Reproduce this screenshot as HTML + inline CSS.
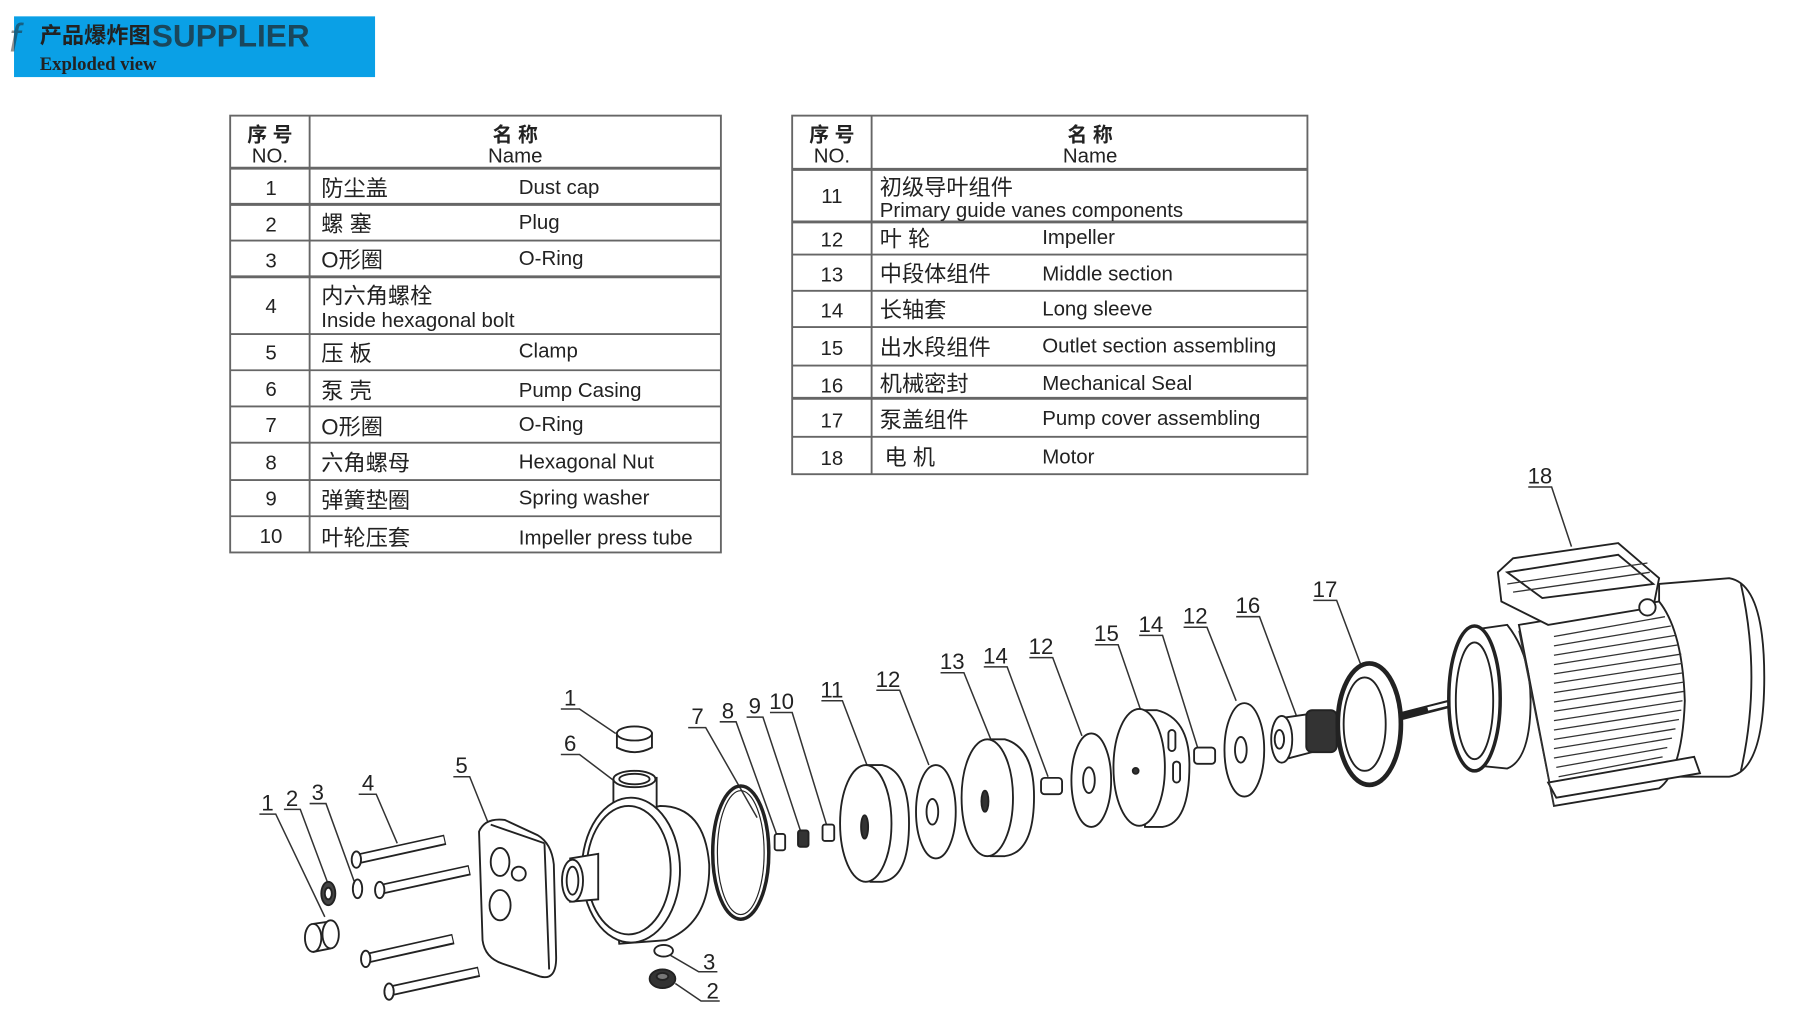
<!DOCTYPE html>
<html><head><meta charset="utf-8"><style>
html,body{margin:0;padding:0;background:#fff;}
svg{display:block;}
text{font-family:"Liberation Sans","Noto Sans CJK SC",sans-serif;fill:#222;}
</style></head><body>
<svg width="1811" height="1036" viewBox="0 0 1550 887" preserveAspectRatio="none" xmlns="http://www.w3.org/2000/svg">
<rect width="1550" height="887" fill="#fff"/>
<rect x="12" y="14" width="309" height="52" fill="#0aa0e6"/>
<text x="8" y="44" font-size="34" fill="#999" opacity="0.5" font-style="italic">f</text>
<text x="34" y="37" font-size="19" fill="#fff" font-weight="bold">产品爆炸图</text>
<text x="130" y="40" font-size="27" fill="#555" opacity="0.7" font-weight="bold">SUPPLIER</text>
<text x="34" y="60" font-size="16" fill="#fff" font-weight="bold" style="font-family:'Liberation Serif',serif">Exploded view</text>

<g stroke="#666" stroke-width="1.6" fill="none">
<rect x="197" y="99" width="420" height="374"/>
<line x1="265" y1="99" x2="265" y2="473"/>
<line x1="197" y1="144" x2="617" y2="144" stroke-width="2.5"/>
<line x1="197" y1="175" x2="617" y2="175" stroke-width="2.5"/>
<line x1="197" y1="206" x2="617" y2="206"/>
<line x1="197" y1="237" x2="617" y2="237" stroke-width="2.5"/>
<line x1="197" y1="286" x2="617" y2="286"/>
<line x1="197" y1="317" x2="617" y2="317"/>
<line x1="197" y1="348" x2="617" y2="348"/>
<line x1="197" y1="379" x2="617" y2="379"/>
<line x1="197" y1="411" x2="617" y2="411"/>
<line x1="197" y1="442" x2="617" y2="442"/>
</g>
<g font-size="17.5">
<text x="231" y="121" text-anchor="middle" font-weight="bold" font-size="17">序 号</text>
<text x="231" y="139" text-anchor="middle">NO.</text>
<text x="441" y="121" text-anchor="middle" font-weight="bold" font-size="17">名 称</text>
<text x="441" y="139" text-anchor="middle">Name</text>
<g text-anchor="middle">
<text x="232" y="167">1</text><text x="232" y="198">2</text><text x="232" y="229">3</text>
<text x="232" y="268">4</text><text x="232" y="308">5</text><text x="232" y="339">6</text>
<text x="232" y="370">7</text><text x="232" y="402">8</text><text x="232" y="433">9</text>
<text x="232" y="465">10</text></g>
<text x="275" y="168" font-size="19">防尘盖</text><text x="444" y="166">Dust cap</text>
<text x="275" y="198" font-size="19">螺  塞</text><text x="444" y="196">Plug</text>
<text x="275" y="229" font-size="19">O形圈</text><text x="444" y="227">O-Ring</text>
<text x="275" y="260" font-size="19">内六角螺栓</text><text x="275" y="280">Inside hexagonal bolt</text>
<text x="275" y="309" font-size="19">压 板</text><text x="444" y="306">Clamp</text>
<text x="275" y="341" font-size="19">泵  壳</text><text x="444" y="340">Pump Casing</text>
<text x="275" y="372" font-size="19">O形圈</text><text x="444" y="369">O-Ring</text>
<text x="275" y="403" font-size="19">六角螺母</text><text x="444" y="401">Hexagonal Nut</text>
<text x="275" y="435" font-size="19">弹簧垫圈</text><text x="444" y="432">Spring washer</text>
<text x="275" y="467" font-size="19">叶轮压套</text><text x="444" y="466">Impeller press tube</text>
</g>

<g stroke="#666" stroke-width="1.6" fill="none">
<rect x="678" y="99" width="441" height="307"/>
<line x1="746" y1="99" x2="746" y2="406"/>
<line x1="678" y1="145" x2="1119" y2="145" stroke-width="2.5"/>
<line x1="678" y1="190" x2="1119" y2="190" stroke-width="2.5"/>
<line x1="678" y1="218" x2="1119" y2="218"/>
<line x1="678" y1="249" x2="1119" y2="249"/>
<line x1="678" y1="280" x2="1119" y2="280"/>
<line x1="678" y1="313" x2="1119" y2="313"/>
<line x1="678" y1="341" x2="1119" y2="341" stroke-width="2.5"/>
<line x1="678" y1="374" x2="1119" y2="374"/>
</g>
<g font-size="17.5">
<text x="712" y="121" text-anchor="middle" font-weight="bold" font-size="17">序 号</text>
<text x="712" y="139" text-anchor="middle">NO.</text>
<text x="933" y="121" text-anchor="middle" font-weight="bold" font-size="17">名 称</text>
<text x="933" y="139" text-anchor="middle">Name</text>
<g text-anchor="middle">
<text x="712" y="174">11</text><text x="712" y="211">12</text><text x="712" y="241">13</text>
<text x="712" y="272">14</text><text x="712" y="304">15</text><text x="712" y="336">16</text>
<text x="712" y="366">17</text><text x="712" y="398">18</text></g>
<text x="753" y="167" font-size="19">初级导叶组件</text><text x="753" y="186">Primary guide vanes components</text>
<text x="753" y="211" font-size="19">叶  轮</text><text x="892" y="209">Impeller</text>
<text x="753" y="241" font-size="19">中段体组件</text><text x="892" y="240">Middle section</text>
<text x="753" y="272" font-size="19">长轴套</text><text x="892" y="270">Long sleeve</text>
<text x="753" y="304" font-size="19">出水段组件</text><text x="892" y="302">Outlet section assembling</text>
<text x="753" y="335" font-size="19">机械密封</text><text x="892" y="334">Mechanical Seal</text>
<text x="753" y="366" font-size="19">泵盖组件</text><text x="892" y="364">Pump cover assembling</text>
<text x="757" y="398" font-size="19">电  机</text><text x="892" y="397">Motor</text>
</g>

<g font-size="19" text-anchor="middle">
<text x="229" y="694">1</text><text x="250" y="690">2</text><text x="272" y="685">3</text>
<text x="315" y="677">4</text><text x="395" y="662">5</text><text x="488" y="604">1</text>
<text x="488" y="643">6</text><text x="597" y="620">7</text><text x="623" y="615">8</text>
<text x="646" y="611">9</text><text x="669" y="607">10</text><text x="712" y="597">11</text>
<text x="760" y="588">12</text><text x="815" y="573">13</text><text x="852" y="568">14</text>
<text x="891" y="560">12</text><text x="947" y="549">15</text><text x="985" y="541">14</text>
<text x="1023" y="534">12</text><text x="1068" y="525">16</text><text x="1134" y="511">17</text>
<text x="1318" y="414">18</text><text x="607" y="830">3</text><text x="610" y="855">2</text>
</g>
<g stroke="#333" stroke-width="1.3" fill="none">
<polyline points="222,697 236,697 278,785"/>
<polyline points="243,693 257,693 282,760"/>
<polyline points="265,688 279,688 304,757"/>
<polyline points="307,680 322,680 340,722"/>
<polyline points="388,665 402,665 420,710"/>
<polyline points="480,607 496,607 527,628"/>
<polyline points="480,646 496,646 525,668"/>
<polyline points="589,623 604,623 648,700"/>
<polyline points="616,618 630,618 666,718"/>
<polyline points="639,614 653,614 686,714"/>
<polyline points="659,610 678,610 708,708"/>
<polyline points="703,600 721,600 742,655"/>
<polyline points="750,591 770,591 795,655"/>
<polyline points="805,576 825,576 848,633"/>
<polyline points="842,571 862,571 897,665"/>
<polyline points="881,563 901,563 926,630"/>
<polyline points="937,552 957,552 977,610"/>
<polyline points="975,544 995,544 1025,640"/>
<polyline points="1013,537 1033,537 1058,600"/>
<polyline points="1058,528 1078,528 1110,614"/>
<polyline points="1124,514 1144,514 1165,570"/>
<polyline points="1308,417 1328,417 1345,468"/>
<polyline points="574,818 598,832 614,832"/>
<polyline points="578,842 600,857 616,857"/>
</g>

<g stroke="#222" stroke-width="1.6" fill="#fff">
<ellipse cx="268" cy="803" rx="7" ry="12"/>
<path d="M268,791 L282,789 M268,815 L283,812"/>
<ellipse cx="283" cy="800" rx="7" ry="12"/>
<ellipse cx="281" cy="765" rx="6" ry="10" fill="#444"/>
<ellipse cx="281" cy="765" rx="3" ry="5" fill="#fff"/>
<ellipse cx="306" cy="761" rx="4" ry="8"/>
<g stroke-width="9" stroke="#222"><line x1="308" y1="735" x2="381" y2="719"/><line x1="328" y1="761" x2="402" y2="745"/><line x1="316" y1="820" x2="388" y2="804"/><line x1="336" y1="848" x2="410" y2="832"/></g>
<g stroke-width="6" stroke="#fff"><line x1="308" y1="735" x2="380" y2="719"/><line x1="328" y1="761" x2="401" y2="745"/><line x1="316" y1="820" x2="387" y2="804"/><line x1="336" y1="848" x2="409" y2="832"/></g>
<ellipse cx="305" cy="736" rx="4" ry="7"/><ellipse cx="325" cy="762" rx="4" ry="7"/><ellipse cx="313" cy="821" rx="4" ry="7"/><ellipse cx="333" cy="849" rx="4" ry="7"/>
<!-- clamp -->
<path d="M410,712 Q415,700 432,702 L460,715 Q472,722 474,740 L476,820 Q476,840 462,836 L430,825 Q415,820 413,805 Z"/>
<path d="M420,706 L466,722 M466,722 L470,830"/>
<ellipse cx="428" cy="738" rx="8" ry="12"/><ellipse cx="428" cy="775" rx="9" ry="13"/><circle cx="444" cy="748" r="6"/>
<!-- casing -->
<path d="M520,700 L565,690 Q603,690 607,740 Q608,790 570,805 L530,808 Z"/>
<path d="M525,668 L525,705 Q545,712 562,702 L562,666 Z"/>
<ellipse cx="543" cy="667" rx="18" ry="7"/>
<ellipse cx="543" cy="667" rx="13" ry="4.5"/>
<ellipse cx="540" cy="745" rx="42" ry="62"/>
<ellipse cx="538" cy="745" rx="36" ry="55"/>
<path d="M488,735 L512,731 L512,770 L488,772 Z"/>
<ellipse cx="490" cy="754" rx="9" ry="18"/>
<ellipse cx="490" cy="754" rx="5" ry="12"/>
<!-- dust cap -->
<path d="M528,628 L528,640 Q543,648 558,640 L558,628 Z"/>
<ellipse cx="543" cy="628" rx="15" ry="6"/>
<!-- bottom O-ring and plug -->
<ellipse cx="568" cy="814" rx="8" ry="5"/>
<ellipse cx="567" cy="838" rx="11" ry="8" fill="#333"/>
<ellipse cx="567" cy="836" rx="5" ry="3" fill="#777"/>
<ellipse cx="634" cy="730" rx="24" ry="57" fill="none" stroke-width="3"/>
<ellipse cx="634" cy="730" rx="20" ry="53" fill="none" stroke-width="1"/>
<rect x="663" y="714" width="9" height="14" rx="2"/>
<rect x="683" y="711" width="9" height="14" rx="2" fill="#333"/>
<rect x="704" y="706" width="10" height="14" rx="2"/>
<path d="M742,655 L755,655 Q778,660 778,705 Q778,752 755,755 L745,755 Z"/>
<ellipse cx="741" cy="705" rx="22" ry="50"/><ellipse cx="740" cy="708" rx="3" ry="10" fill="#333"/>
<ellipse cx="801" cy="695" rx="17" ry="40"/><ellipse cx="798" cy="695" rx="5" ry="11"/>
<path d="M848,633 L860,633 Q885,640 885,682 Q885,730 860,733 L848,733 Z"/>
<ellipse cx="845" cy="683" rx="22" ry="50"/><ellipse cx="843" cy="686" rx="3" ry="9" fill="#333"/>
<rect x="891" y="666" width="18" height="14" rx="3"/>
<ellipse cx="934" cy="668" rx="17" ry="40"/><ellipse cx="932" cy="668" rx="5" ry="11"/>
<path d="M975,608 L990,608 Q1018,615 1018,655 Q1018,705 995,708 L980,708 Z"/>
<ellipse cx="975" cy="657" rx="22" ry="50"/>
<rect x="1000" y="625" width="6" height="18" rx="3"/><rect x="1004" y="652" width="6" height="18" rx="3"/>
<circle cx="972" cy="660" r="2.5" fill="#333"/>
<rect x="1022" y="640" width="18" height="14" rx="3"/>
<ellipse cx="1065" cy="642" rx="17" ry="40"/><ellipse cx="1062" cy="642" rx="5" ry="11"/>
<path d="M1095,615 L1130,610 L1138,640 L1100,650 Z"/>
<rect x="1118" y="608" width="26" height="36" rx="5" fill="#333"/>
<ellipse cx="1097" cy="633" rx="9" ry="20"/><ellipse cx="1095" cy="633" rx="4" ry="8"/>
<ellipse cx="1172" cy="620" rx="27" ry="52" stroke-width="4"/>
<ellipse cx="1168" cy="620" rx="18" ry="40"/>
<line x1="1200" y1="613" x2="1262" y2="597" stroke-width="7"/>
<line x1="1222" y1="607" x2="1262" y2="597" stroke-width="3" stroke="#fff"/>
<path d="M1420,500 L1480,495 Q1510,500 1510,580 Q1510,660 1480,665 L1420,665 Z"/>
<path d="M1490,500 Q1508,580 1490,660" fill="none"/>
<path d="M1300,535 L1420,515 Q1440,540 1442,600 Q1440,660 1420,675 L1330,690 Z"/>
<path d="M1325,670 L1450,648 L1455,662 L1332,683 Z"/>
<path d="M1282,490 L1295,478 L1385,465 L1420,495 L1415,520 L1325,535 L1285,515 Z"/>
<path d="M1290,490 L1385,475 L1415,500 L1320,512 Z"/>
<circle cx="1410" cy="520" r="7"/>
<path d="M1255,540 L1290,535 Q1310,560 1310,600 Q1310,650 1290,658 L1260,655 Z"/>
<ellipse cx="1262" cy="598" rx="22" ry="62" stroke-width="3"/>
<ellipse cx="1262" cy="600" rx="16" ry="50"/>
</g>
<g stroke="#333" stroke-width="1.1">
<line x1="1330" y1="545" x2="1425" y2="528"/><line x1="1330" y1="553" x2="1430" y2="536"/>
<line x1="1330" y1="561" x2="1434" y2="544"/><line x1="1330" y1="569" x2="1437" y2="552"/>
<line x1="1330" y1="577" x2="1439" y2="560"/><line x1="1330" y1="585" x2="1440" y2="568"/>
<line x1="1330" y1="593" x2="1441" y2="576"/><line x1="1330" y1="601" x2="1441" y2="584"/>
<line x1="1330" y1="609" x2="1441" y2="592"/><line x1="1330" y1="617" x2="1440" y2="600"/>
<line x1="1330" y1="625" x2="1439" y2="608"/><line x1="1330" y1="633" x2="1437" y2="616"/>
<line x1="1330" y1="641" x2="1434" y2="624"/><line x1="1330" y1="649" x2="1431" y2="632"/>
<line x1="1332" y1="657" x2="1427" y2="640"/><line x1="1334" y1="665" x2="1423" y2="648"/>
<line x1="1290" y1="500" x2="1410" y2="482"/><line x1="1295" y1="507" x2="1412" y2="490"/>
<line x1="1300" y1="540" x2="1330" y2="690"/>
</g>
</svg>
</body></html>
